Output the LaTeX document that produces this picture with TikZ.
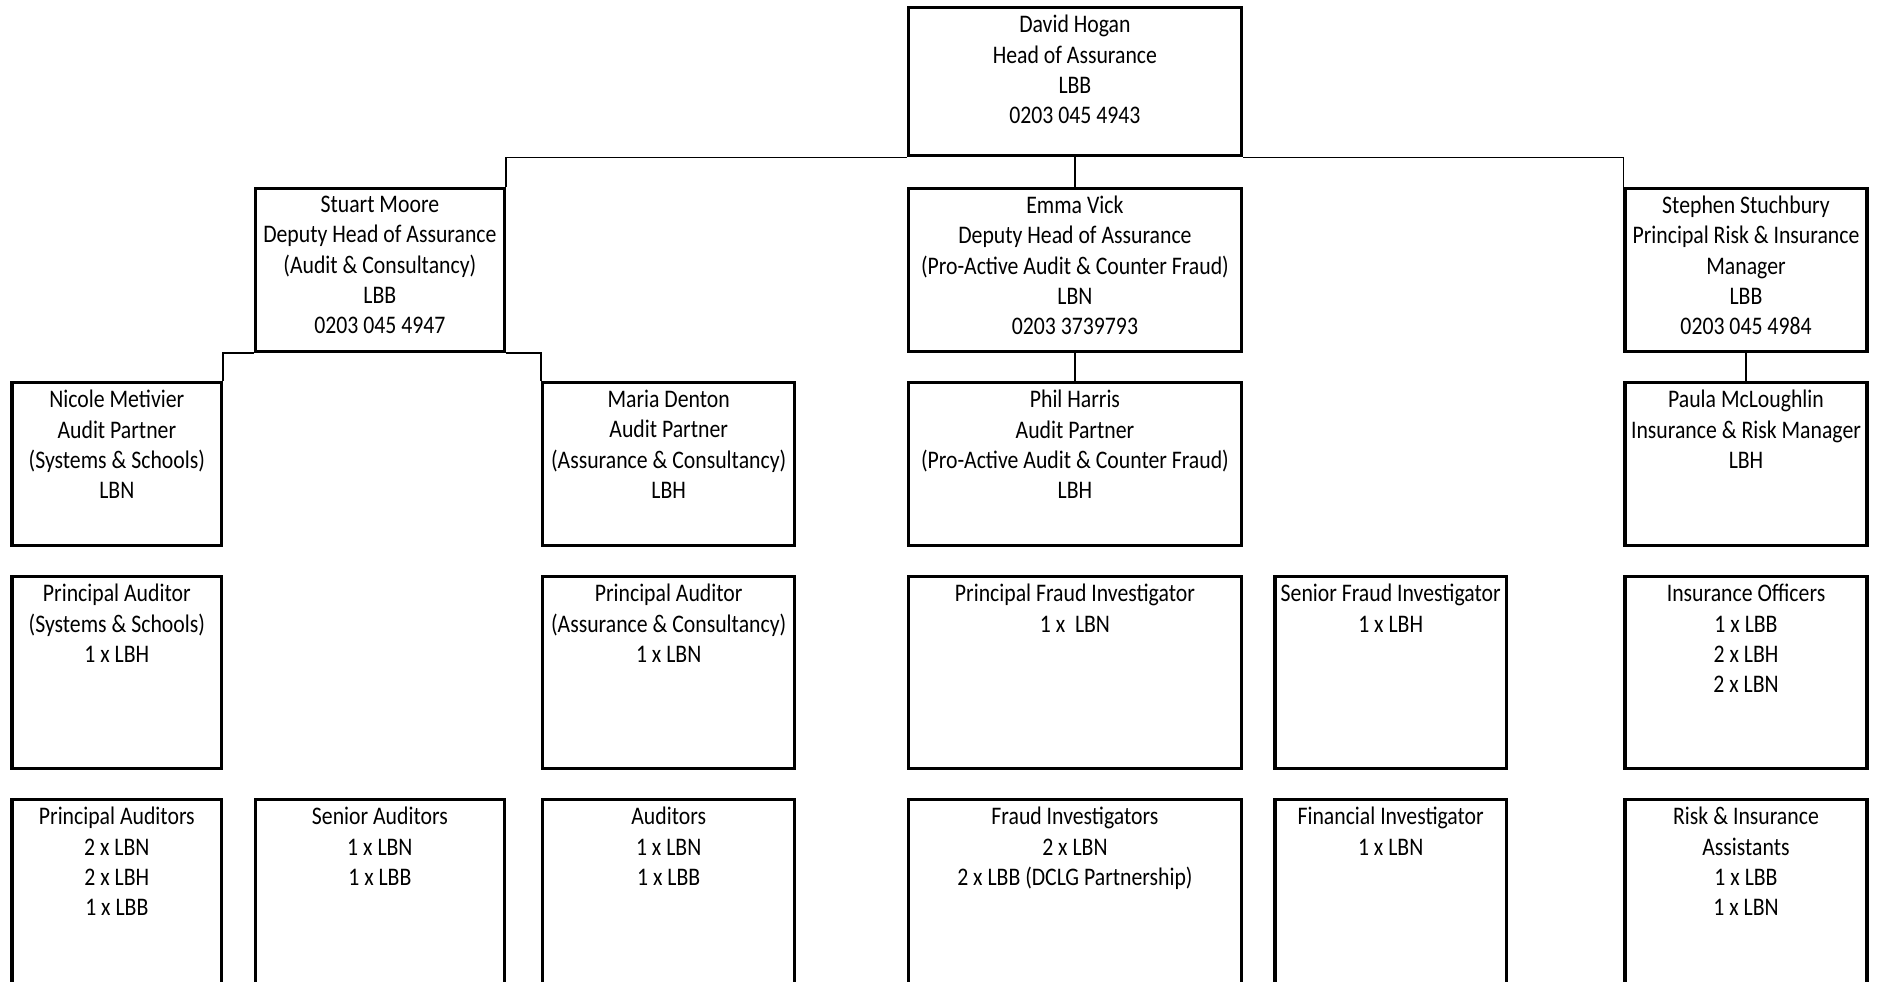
\documentclass[tikz,border=0pt]{standalone}
\usepackage{fontspec}
\setmainfont[FakeStretch=0.86]{Carlito}
\usetikzlibrary{positioning,fit}

\begin{document}
\begin{tikzpicture}[x=0.012cm, y=-0.012cm,
  box/.style={draw, line width=0.9pt, inner sep=0pt},
  txt/.style={anchor=north, align=center, font=\fontsize{7.2}{8.64}\selectfont, inner xsep=1pt, inner ysep=2.5pt},
  link/.style={line width=0.5pt}]
  \clip (0,0) rectangle (1568,819);
  % head
  \node[box, fit={(758,6) (1036,130)}] (dh) {};
  \node[txt] (dh-t) at (dh.north) {David Hogan\\Head of Assurance\\LBB\\0203 045 4943};
  % deputies
  \node[box, fit={(213,157) (421,293)}] (sm) {};
  \node[txt] (sm-t) at (sm.north) {Stuart Moore\\Deputy Head of Assurance\\(Audit \& Consultancy)\\LBB\\0203 045 4947};
  \node[box, fit={(758,157) (1036,293)}] (ev) {};
  \node[txt] (ev-t) at (ev.north) {Emma Vick\\Deputy Head of Assurance\\(Pro-Active Audit \& Counter Fraud)\\LBN\\0203 3739793};
  \node[box, fit={(1356,157) (1558,293)}] (ss) {};
  \node[txt] (ss-t) at (ss.north) {Stephen Stuchbury\\Principal Risk \& Insurance\\Manager\\LBB\\0203 045 4984};
  % partners
  \node[box, fit={(10,319) (185,455)}] (nm) {};
  \node[txt] (nm-t) at (nm.north) {Nicole Metivier\\Audit Partner\\(Systems \& Schools)\\LBN};
  \node[box, fit={(453,319) (663,455)}] (md) {};
  \node[txt] (md-t) at (md.north) {Maria Denton\\Audit Partner\\(Assurance \& Consultancy)\\LBH};
  \node[box, fit={(758,319) (1036,455)}] (ph) {};
  \node[txt] (ph-t) at (ph.north) {Phil Harris\\Audit Partner\\(Pro-Active Audit \& Counter Fraud)\\LBH};
  \node[box, fit={(1356,319) (1558,455)}] (pm) {};
  \node[txt] (pm-t) at (pm.north) {Paula McLoughlin\\Insurance \& Risk Manager\\LBH};
  % principal officers
  \node[box, fit={(10,481) (185,641)}] (pa1) {};
  \node[txt] (pa1-t) at (pa1.north) {Principal Auditor\\(Systems \& Schools)\\1 x LBH};
  \node[box, fit={(453,481) (663,641)}] (pa2) {};
  \node[txt] (pa2-t) at (pa2.north) {Principal Auditor\\(Assurance \& Consultancy)\\1 x LBN};
  \node[box, fit={(758,481) (1036,641)}] (pfi) {};
  \node[txt] (pfi-t) at (pfi.north) {Principal Fraud Investigator\\1 x~ LBN};
  \node[box, fit={(1064,481) (1257,641)}] (sfi) {};
  \node[txt] (sfi-t) at (sfi.north) {Senior Fraud Investigator\\1 x LBH};
  \node[box, fit={(1356,481) (1558,641)}] (io) {};
  \node[txt] (io-t) at (io.north) {Insurance Officers\\1 x LBB\\2 x LBH\\2 x LBN};
  % teams
  \node[box, fit={(10,667) (185,830)}] (pas) {};
  \node[txt] (pas-t) at (pas.north) {Principal Auditors\\2 x LBN\\2 x LBH\\1 x LBB};
  \node[box, fit={(213,667) (421,830)}] (sa) {};
  \node[txt] (sa-t) at (sa.north) {Senior Auditors\\1 x LBN\\1 x LBB};
  \node[box, fit={(453,667) (663,830)}] (au) {};
  \node[txt] (au-t) at (au.north) {Auditors\\1 x LBN\\1 x LBB};
  \node[box, fit={(758,667) (1036,830)}] (fi) {};
  \node[txt] (fi-t) at (fi.north) {Fraud Investigators\\2 x LBN\\2 x LBB (DCLG Partnership)};
  \node[box, fit={(1064,667) (1257,830)}] (fin) {};
  \node[txt] (fin-t) at (fin.north) {Financial Investigator\\1 x LBN};
  \node[box, fit={(1356,667) (1558,830)}] (ria) {};
  \node[txt] (ria-t) at (ria.north) {Risk \& Insurance\\Assistants\\1 x LBB\\1 x LBN};
  % reporting lines
  \draw[link] (sm.north east) |- (dh.south west);
  \draw[link] (ss.north west) |- (dh.south east);
  \draw[link] (dh) -- (ev);
  \draw[link] (nm.north east) |- (sm.south west);
  \draw[link] (md.north west) |- (sm.south east);
  \draw[link] (ev) -- (ph);
  \draw[link] (ss) -- (pm);
\end{tikzpicture}
\end{document}
